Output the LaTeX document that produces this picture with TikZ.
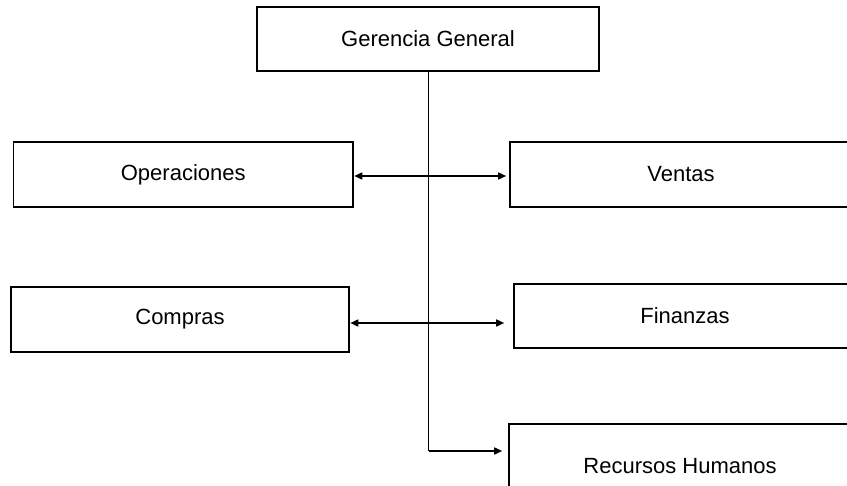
\documentclass[tikz,border=0pt]{standalone}
\usepackage{fontspec}
\setmainfont{Liberation Sans}
\usetikzlibrary{arrows.meta}
\begin{document}
\begin{tikzpicture}[x=1pt,y=-1pt,
  box/.style={draw=black,line width=1.6pt,fill=white,inner sep=0pt,
    font=\fontsize{22}{26}\selectfont},
  link/.style={draw=black,line width=1.6pt},
  arr/.style={link,-{Triangle[length=8pt,width=7pt]}}]
\useasboundingbox (0,0) rectangle (847,486);
\clip (0,0) rectangle (847,486);
\node[box,minimum width=342pt,minimum height=64pt] (gg) at (428,39) {Gerencia General};
\node[box,minimum width=339.5pt,minimum height=65pt] (op) at (183.25,174.5) {Operaciones};
\node[box,minimum width=342pt,minimum height=65pt] (ve) at (681,174.5) {Ventas};
\node[box,minimum width=338pt,minimum height=65pt] (co) at (180,319.5) {Compras};
\node[box,minimum width=342pt,minimum height=64pt] (fi) at (685,316) {Finanzas};
\node[box,minimum width=342pt,minimum height=84pt] (rh) at (680,466) {Recursos Humanos};
\coordinate (j1) at (428.5,176);
\coordinate (j2) at (428.5,323);
\coordinate (j3) at (428.5,451);
\draw[link] (gg.south -| j1) -- (j3);
\draw[arr,shorten >=0.5pt] (j1) -- (j1 -| op.east);
\draw[arr,shorten >=3pt] (j1) -- (j1 -| ve.west);
\draw[arr,shorten >=0.5pt] (j2) -- (j2 -| co.east);
\draw[arr,shorten >=9pt] (j2) -- (j2 -| fi.west);
\draw[arr,shorten >=6pt] (j3) -- (j3 -| rh.west);
\end{tikzpicture}
\end{document}
